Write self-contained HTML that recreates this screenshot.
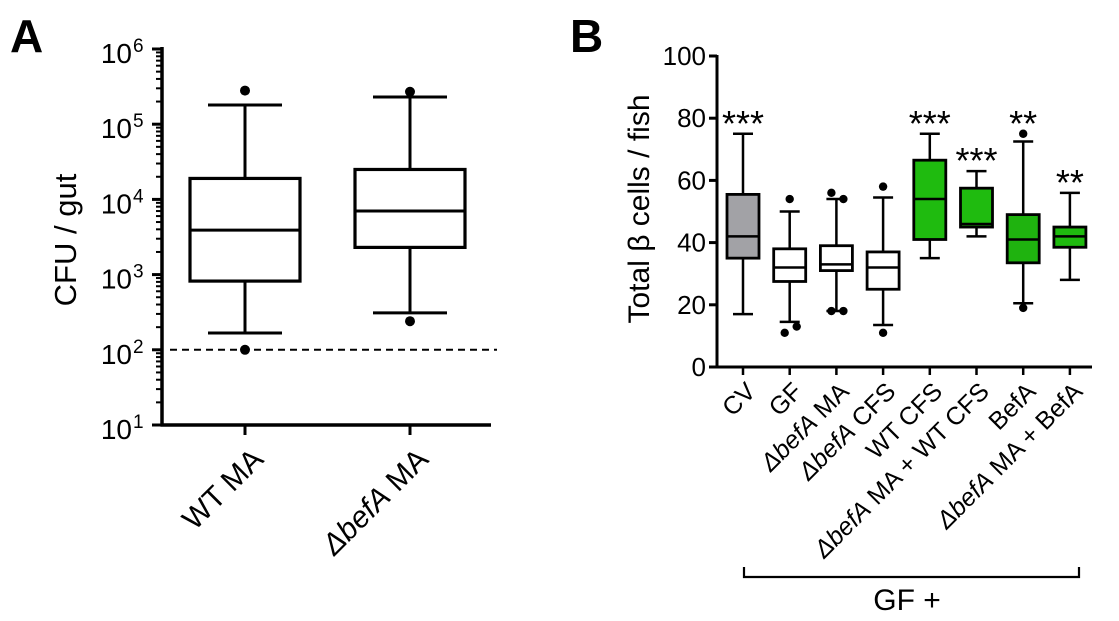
<!DOCTYPE html>
<html><head><meta charset="utf-8">
<style>
body{margin:0;background:#fff;}
svg{display:block;font-family:"Liberation Sans",sans-serif;}
</style></head>
<body>
<svg id="fig" width="1119" height="621" viewBox="0 0 1119 621" xmlns="http://www.w3.org/2000/svg">
<text x="10" y="52" font-size="46" font-weight="bold">A</text>
<text x="570" y="52" font-size="46" font-weight="bold">B</text>
<g id="pa"></g>
<g id="pb"></g>
</svg>
<script>
// ---- Panel A data ----
const aCats = ["WT MA", "befA MA"];
const aWhiskLo = [167, 310];
const aQ1 = [820, 2300];
const aMed = [3900, 7000];
const aQ3 = [19000, 25000];
const aWhiskHi = [180000, 230000];
const aOutliers = [[280000, 100], [270000, 240]];
const aTickExp = [1, 2, 3, 4, 5, 6];
const aLimit = 100;

// ---- Panel B data ----
const bCats = ["CV", "GF", "befA MA", "befA CFS", "WT CFS", "befA MA + WT CFS", "BefA", "befA MA + BefA"];
const bWhiskLo = [17, 14.5, 18, 13.5, 35, 42, 20.5, 28];
const bQ1 = [35, 27.5, 31, 25, 41, 45, 33.5, 38.5];
const bMed = [42, 32, 33, 32, 54, 46, 41, 42];
const bQ3 = [55.5, 38, 39, 37, 66.5, 57.5, 49, 45];
const bWhiskHi = [75, 50, 54, 54.5, 75, 63, 72.5, 56];
const bOutliers = [[], [54, 11, 13], [56, 54, 18, 18], [58, 11], [], [], [75, 19], []];
const bStars = ["***", "", "", "", "***", "***", "**", "**"];
const bTicks = [0, 20, 40, 60, 80, 100];

const NS = "http://www.w3.org/2000/svg";
function mk(parent, tag, attrs) {
  const e = document.createElementNS(NS, tag);
  for (const k in attrs) e.setAttribute(k, attrs[k]);
  parent.appendChild(e);
  return e;
}
const pa = document.getElementById('pa');
const pb = document.getElementById('pb');

// ---- Panel A ----
const ax0 = 162, axEnd = 491, ayTop = 49, ayBot = 425;
const ay = v => ayBot - (Math.log10(v) - 1) * (ayBot - ayTop) / 5;
const axc = i => 245 + i * 165;
let e;
e = mk(pa, 'line', {x1: ax0, y1: ayTop - 2, x2: ax0, y2: ayBot + 1.5, stroke: '#000', 'stroke-width': 3.5});
 
e = mk(pa, 'line', {x1: ax0 - 1.5, y1: ayBot, x2: axEnd, y2: ayBot, stroke: '#000', 'stroke-width': 3.5});
 
aTickExp.forEach(k => {
  const y = ayBot - (k - 1) * (ayBot - ayTop) / 5;
  e = mk(pa, 'line', {x1: ax0 - 10, y1: y, x2: ax0, y2: y, stroke: '#000', 'stroke-width': 3});
   
  if (k < 6) for (let m = 2; m <= 9; m++) {
    const yy = ay(m * Math.pow(10, k));
    const mm = mk(pa, 'line', {x1: ax0 - 6, y1: yy, x2: ax0, y2: yy, stroke: '#000', 'stroke-width': 2});
     
  }
  const t = mk(pa, 'text', {x: 132, y: y + 14, 'font-size': 28, 'text-anchor': 'end'});
  t.textContent = '10';
   
  const s = mk(pa, 'text', {x: 133, y: y + 3, 'font-size': 19});
  s.textContent = String(k);
   
});
e = mk(pa, 'text', {x: 0, y: 0, 'font-size': 31, 'text-anchor': 'middle', transform: 'translate(76,240) rotate(-90)'});
e.textContent = 'CFU / gut';
 
e = mk(pa, 'line', {x1: 170, y1: ay(aLimit), x2: 497, y2: ay(aLimit), stroke: '#000', 'stroke-width': 2, 'stroke-dasharray': '7,5'});
 
aCats.forEach((c, i) => {
  const x = axc(i), bw = 55, cw = 37;
  e = mk(pa, 'line', {x1: x, y1: ayBot, x2: x, y2: ayBot + 10, stroke: '#000', 'stroke-width': 3});
   
  e = mk(pa, 'line', {x1: x, y1: ay(aWhiskLo[i]), x2: x, y2: ay(aWhiskHi[i]), stroke: '#000', 'stroke-width': 3});
   
  [aWhiskLo[i], aWhiskHi[i]].forEach(v => {
    const cap = mk(pa, 'line', {x1: x - cw, y1: ay(v), x2: x + cw, y2: ay(v), stroke: '#000', 'stroke-width': 3});
     
  });
  e = mk(pa, 'rect', {x: x - bw, y: ay(aQ3[i]), width: 2 * bw, height: ay(aQ1[i]) - ay(aQ3[i]), fill: '#fff', stroke: '#000', 'stroke-width': 3.2});
   
  e = mk(pa, 'line', {x1: x - bw, y1: ay(aMed[i]), x2: x + bw, y2: ay(aMed[i]), stroke: '#000', 'stroke-width': 3});
   
  aOutliers[i].forEach(v => {
    const d = mk(pa, 'circle', {cx: x, cy: ay(v), r: 5, fill: '#000'});
     
  });
  const g = mk(pa, 'g', {transform: `translate(${x + 20},${ayBot + 36}) rotate(-45)`});
   
  const t = mk(g, 'text', {x: 0, y: 0, 'font-size': 30, 'text-anchor': 'end'});
   
  if (i === 0) t.textContent = c;
  else t.innerHTML = '<tspan font-style="italic">Δ' + 'befA</tspan> MA';
});

// ---- Panel B ----
const bx0 = 717, bxEnd = 1092, byTop = 56, byBot = 367;
const by = v => byBot - v * (byBot - byTop) / 100;
const bxc = i => 743 + i * 46.7;
const fills = ['#a2a2a6', '#fff', '#fff', '#fff', '#1fbb0f', '#1fbb0f', '#1fb30f', '#1fbb0f'];
e = mk(pb, 'line', {x1: bx0, y1: byTop - 1, x2: bx0, y2: byBot + 1.5, stroke: '#000', 'stroke-width': 3});
 
e = mk(pb, 'line', {x1: bx0 - 1.5, y1: byBot, x2: bxEnd, y2: byBot, stroke: '#000', 'stroke-width': 3});
 
bTicks.forEach(v => {
  e = mk(pb, 'line', {x1: bx0 - 8, y1: by(v), x2: bx0, y2: by(v), stroke: '#000', 'stroke-width': 3});
   
  const t = mk(pb, 'text', {x: bx0 - 11, y: by(v) + 9, 'font-size': 26, 'text-anchor': 'end'});
  t.textContent = v;
   
});
e = mk(pb, 'text', {x: 0, y: 0, 'font-size': 30, 'text-anchor': 'middle', transform: 'translate(649,209) rotate(-90)'});
e.textContent = 'Total β cells / fish';
 
bCats.forEach((c, i) => {
  const x = bxc(i), bw = 16, cw = 10;
  e = mk(pb, 'line', {x1: x, y1: byBot, x2: x, y2: byBot + 8, stroke: '#000', 'stroke-width': 2.5});
   
  e = mk(pb, 'line', {x1: x, y1: by(bWhiskLo[i]), x2: x, y2: by(bWhiskHi[i]), stroke: '#000', 'stroke-width': 2.5});
   
  [bWhiskLo[i], bWhiskHi[i]].forEach(v => {
    const cap = mk(pb, 'line', {x1: x - cw, y1: by(v), x2: x + cw, y2: by(v), stroke: '#000', 'stroke-width': 2.5});
     
  });
  e = mk(pb, 'rect', {x: x - bw, y: by(bQ3[i]), width: 2 * bw, height: by(bQ1[i]) - by(bQ3[i]), fill: fills[i], stroke: '#000', 'stroke-width': 2.8});
   
  e = mk(pb, 'line', {x1: x - bw, y1: by(bMed[i]), x2: x + bw, y2: by(bMed[i]), stroke: '#000', 'stroke-width': 2.5});
   
  const seen = {};
  bOutliers[i].forEach(v => {
    const key = Math.round(v / 4);
    const n = seen[key] = (seen[key] || 0) + 1;
    const dx = n > 1 ? 7 : (bOutliers[i].filter(w => Math.round(w / 4) === key).length > 1 ? -5 : 0);
    const d = mk(pb, 'circle', {cx: x + dx, cy: by(v), r: 4.2, fill: '#000'});
     
  });
  if (bStars[i]) {
    const top = Math.max(bWhiskHi[i], ...bOutliers[i]);
    const s = mk(pb, 'text', {x: x, y: by(top) + 2, 'font-size': 36, 'text-anchor': 'middle'});
    s.textContent = bStars[i];
     
  }
  const g = mk(pb, 'g', {transform: `translate(${x + 14},${byBot + 26}) rotate(-45)`});
   
  const t = mk(g, 'text', {x: 0, y: 0, 'font-size': 25, 'text-anchor': 'end'});
   
  if (c.startsWith('befA')) t.innerHTML = '<tspan font-style="italic">Δ' + 'befA</tspan>' + c.slice(4);
  else t.textContent = c;
});
e = mk(pb, 'path', {d: 'M744,567 V577 H1079 V567', fill: 'none', stroke: '#000', 'stroke-width': 2.2});
 
e = mk(pb, 'text', {x: 907, y: 610, 'font-size': 30, 'text-anchor': 'middle'});
e.textContent = 'GF +';
 
</script>
</body></html>
